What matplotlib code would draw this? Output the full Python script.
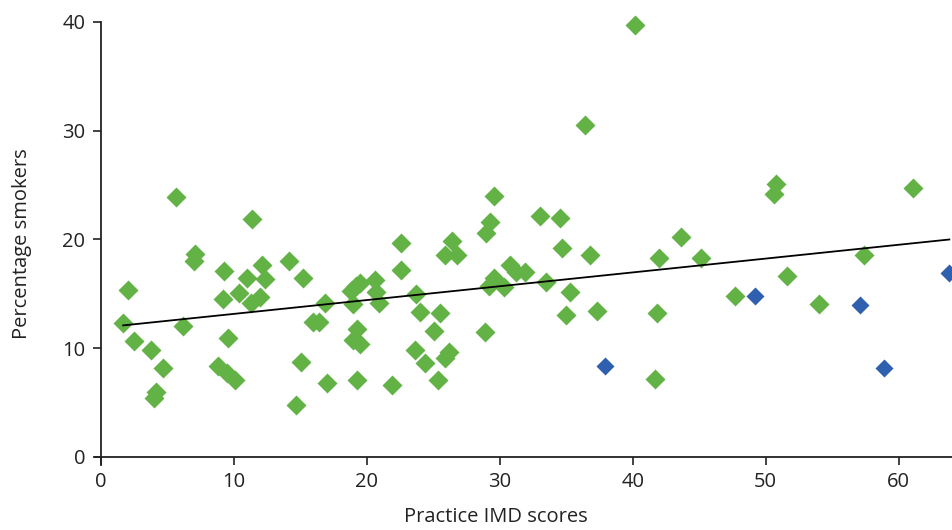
import matplotlib.pyplot as plt

# practices, green = main group, blue = highlighted practices
imd_green = [1.7, 2.1, 2.5, 3.8, 4.0, 4.2, 4.7, 5.7, 6.2, 7.0, 7.1, 8.8, 9.2, 9.3,
             9.5, 9.6, 10.1, 10.4, 11.0, 11.3, 11.4, 12.0, 12.1, 12.4, 14.2, 14.7,
             15.1, 15.2, 16.0, 16.4, 16.9, 17.0, 18.8, 19.0, 19.0, 19.2, 19.3, 19.3,
             19.5, 19.5, 20.6, 20.7, 20.9, 21.9, 22.6, 22.6, 23.6, 23.7, 24.0, 24.4,
             25.1, 25.4, 25.5, 25.9, 25.9, 26.2, 26.4, 26.8, 28.9, 29.0, 29.3, 29.6,
             29.2, 29.6, 30.3, 30.8, 31.2, 31.9, 33.0, 33.5, 34.5, 34.7, 35.0, 35.3,
             36.4, 36.8, 37.3, 40.2, 41.7, 41.8, 42.0, 43.6, 45.1, 47.7, 50.6, 50.8,
             51.6, 54.0, 57.4, 61.1]
smk_green = [12.3, 15.4, 10.7, 9.8, 5.4, 6.0, 8.2, 23.9, 12.0, 18.0, 18.7, 8.4, 14.5, 17.1,
             7.7, 10.9, 7.1, 15.1, 16.5, 14.2, 21.9, 14.7, 17.7, 16.4, 18.0, 4.8,
             8.7, 16.5, 12.4, 12.4, 14.2, 6.8, 15.3, 14.1, 10.8, 15.7, 7.1, 11.8,
             10.4, 16.0, 16.3, 15.2, 14.2, 6.6, 17.2, 19.7, 9.8, 15.0, 13.3, 8.6,
             11.6, 7.1, 13.2, 9.1, 18.6, 9.7, 19.9, 18.6, 11.5, 20.6, 21.6, 24.0,
             15.7, 16.5, 15.6, 17.7, 17.0, 17.0, 22.2, 16.1, 22.0, 19.2, 13.1, 15.2,
             30.5, 18.6, 13.4, 39.7, 7.2, 13.2, 18.3, 20.2, 18.3, 14.8, 24.2, 25.1,
             16.6, 14.1, 18.6, 24.7]

imd_blue = [37.9, 49.2, 57.1, 58.9, 63.8]
smk_blue = [8.4, 14.8, 14.0, 8.2, 16.9]

# line of best fit as drawn in the source
fit_x = [1.7, 63.8]
fit_y = [12.1, 20.0]

plt.rcParams['font.family'] = ['Open Sans', 'DejaVu Sans']

fig = plt.figure(figsize=(9.52, 5.30), dpi=100)
ax = fig.add_axes([0.100, 0.1234, 0.900, 0.8351])

ax.plot(imd_green, smk_green, 'D', color='#63b246', ms=10.5, mec='none', zorder=2,
        clip_on=False)
ax.plot(imd_blue, smk_blue, 'D', color='#2f5faf', ms=9.5, mec='none', zorder=2,
        clip_on=False)
ax.plot(fit_x, fit_y, color='black', lw=1.3, zorder=3)

ax.set_xlim(-0.4, 64)
ax.set_ylim(-0.7, 40)
ax.spines['left'].set_position(('data', 0))
ax.spines['bottom'].set_position(('data', 0))
ax.spines['right'].set_visible(False)
ax.spines['top'].set_visible(False)
for s in ['left', 'bottom']:
    ax.spines[s].set_linewidth(1.3)
    ax.spines[s].set_color('#222222')

ax.set_xticks(range(0, 61, 10))
ax.set_yticks(range(0, 41, 10))
ax.tick_params(axis='both', direction='out', length=6, width=1.2, color='#222222',
               labelsize=14.5, labelcolor='#222222', pad=5)

ax.set_xlabel('Practice IMD scores', fontsize=14.5, color='#222222')
ax.xaxis.set_label_coords(0.468, -0.095)
ax.set_ylabel('Percentage smokers', fontsize=14.5, color='#222222')
ax.yaxis.set_label_coords(-0.074, 0.5)

plt.savefig('out.png', dpi=100)
